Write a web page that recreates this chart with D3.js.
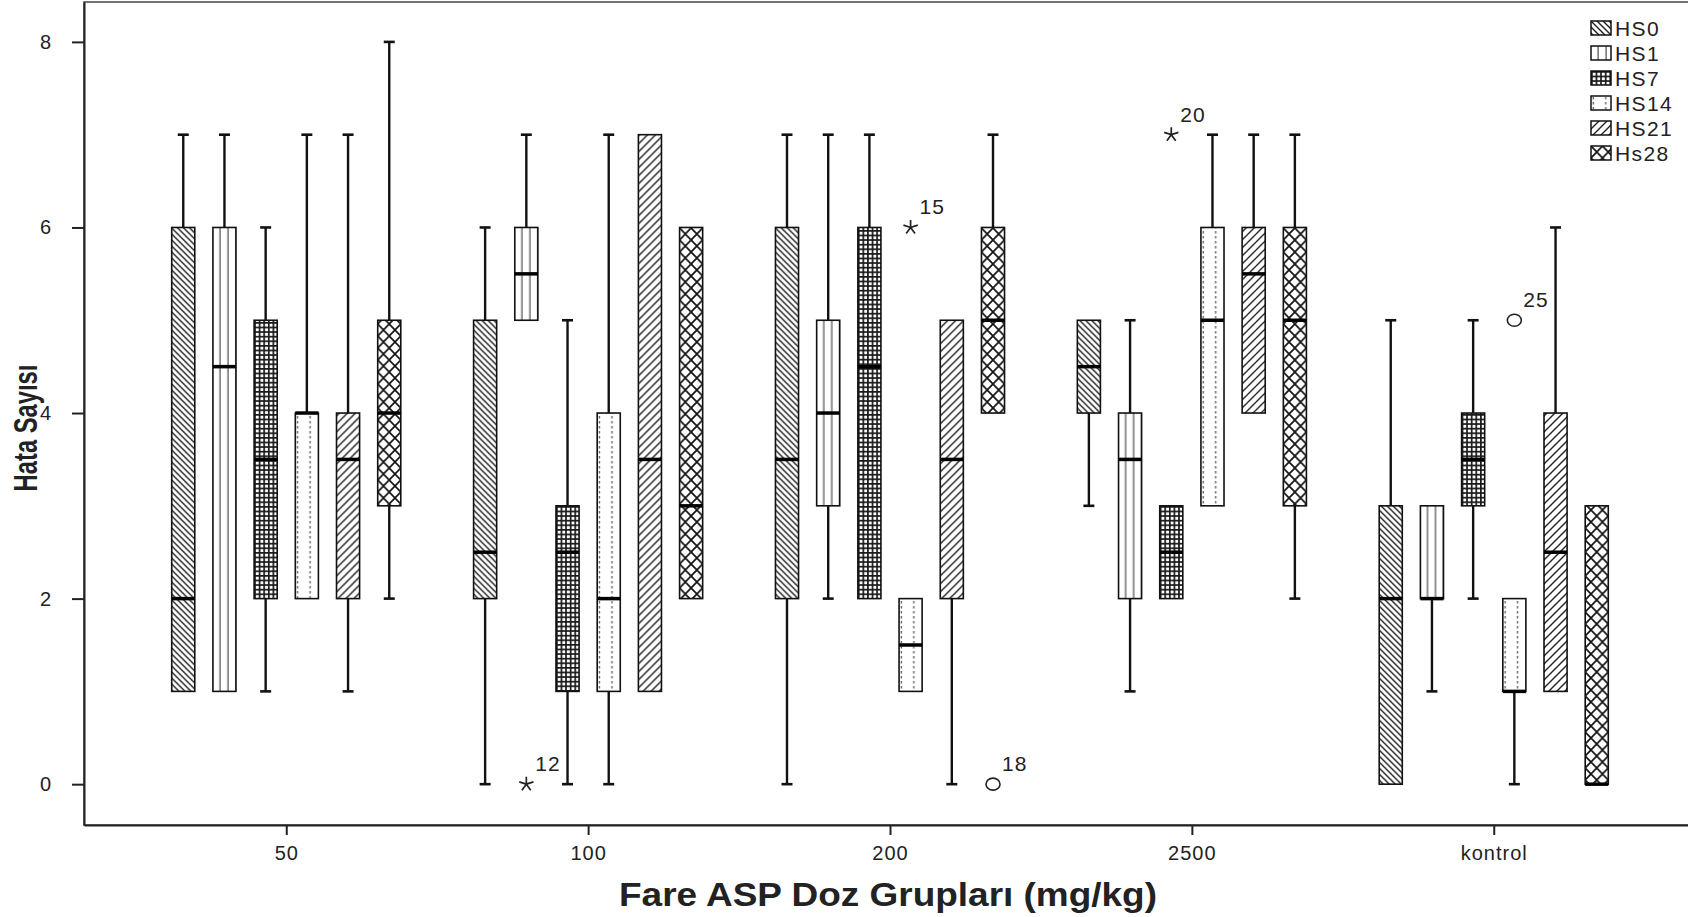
<!DOCTYPE html>
<html>
<head>
<meta charset="utf-8">
<script src="https://cdn.jsdelivr.net/npm/d3@7"></script>
<style>
    body { margin: 0; background: #fff; }
    svg text { font-family: "Liberation Sans", Arial, sans-serif; fill: #222; }
</style>
</head>
<body>
<div id="vis"></div>
<script>
'use strict';

//categories
var groups = ['50', '100', '200', '2500', 'kontrol'];
var series = ['HS0', 'HS1', 'HS7', 'HS14', 'HS21', 'Hs28'];
var yTicks = [0, 2, 4, 6, 8];

//[min, q1, median, q3, max] for every group, per series
var hs0  = [[1, 1, 2, 6, 7], [0, 2, 2.5, 5, 6], [0, 2, 3.5, 6, 7], [3, 4, 4.5, 5, 5], [0, 0, 2, 3, 5]];
var hs1  = [[1, 1, 4.5, 6, 7], [5, 5, 5.5, 6, 7], [2, 3, 4, 5, 7], [1, 2, 3.5, 4, 5], [1, 2, 2, 3, 3]];
var hs7  = [[1, 2, 3.5, 5, 6], [0, 1, 2.5, 3, 5], [2, 2, 4.5, 6, 7], [2, 2, 2.5, 3, 3], [2, 3, 3.5, 4, 5]];
var hs14 = [[2, 2, 4, 4, 7], [0, 1, 2, 4, 7], [1, 1, 1.5, 2, 2], [3, 3, 5, 6, 7], [0, 1, 1, 2, 2]];
var hs21 = [[1, 2, 3.5, 4, 7], [1, 1, 3.5, 7, 7], [0, 2, 3.5, 5, 5], [4, 4, 5.5, 6, 7], [1, 1, 2.5, 4, 6]];
var hs28 = [[2, 3, 4, 5, 8], [2, 2, 3, 6, 6], [4, 4, 5, 6, 7], [2, 3, 5, 6, 7], [0, 0, 0, 3, 3]];
var seriesValues = [hs0, hs1, hs7, hs14, hs21, hs28];

//outliers: o = mild, * = extreme
var outGroups = ['100', '200', '200', '2500', 'kontrol'];
var outSeries = ['HS1', 'HS14', 'Hs28', 'HS7', 'HS14'];
var outValues = [0, 6, 0, 7, 5];
var outTypes  = ['*', '*', 'o', '*', 'o'];
var outLabels = ['12', '15', '18', '20', '25'];

var W = 1688, H = 917;
var plot = { left: 84, right: 1696, top: 2, bottom: 825 };

var x0 = d3.scalePoint().domain(groups).range([plot.left, plot.right]).padding(0.67);
var x1 = d3.scaleBand().domain(series).range([-123.6, 123.6]).paddingInner(0.44).paddingOuter(0.22);
var y = d3.scaleLinear().domain([-0.44, 8.43]).range([plot.bottom, plot.top]);
var bw = x1.bandwidth();

var svg = d3.select('#vis').append('svg')
    .attr('width', W)
    .attr('height', H);

//fill patterns, tiles start at the box's left edge
var defs = svg.append('defs');
function pattern(id, w, h) {
    var p = defs.append('pattern')
        .attr('id', id)
        .attr('patternUnits', 'userSpaceOnUse')
        .attr('width', w)
        .attr('height', h);
    p.append('rect').attr('width', w).attr('height', h).attr('fill', '#fff');
    return p;
}
pattern('p-HS0', 6, 6).append('path')
    .attr('d', 'M-1,-1L7,7M-1,5L1,7M5,-1L7,1')
    .attr('stroke', '#222').attr('stroke-width', 1.4);
pattern('p-HS1', 8, 10).append('rect')
    .attr('x', 6.3).attr('width', 2.4).attr('height', 10).attr('fill', '#808080');
var p7 = pattern('p-HS7', 4.6, 4.6);
p7.append('rect').attr('width', 4.6).attr('height', 1.7).attr('fill', '#1a1a1a');
p7.append('rect').attr('width', 1.7).attr('height', 4.6).attr('fill', '#1a1a1a');
var p14 = pattern('p-HS14', 12.5, 5);
p14.append('rect').attr('x', 1.6).attr('y', 1).attr('width', 1.4).attr('height', 2.5).attr('fill', '#666');
pattern('p-HS21', 8, 8).append('path')
    .attr('d', 'M-1,9L9,-1M-1,1L1,-1M7,9L9,7')
    .attr('stroke', '#222').attr('stroke-width', 1.4);
pattern('p-Hs28', 11.5, 12).append('path')
    .attr('d', 'M0,0L11.5,12M11.5,0L0,12')
    .attr('stroke', '#111').attr('stroke-width', 1.7);

//frame
svg.append('rect')
    .attr('x', plot.left)
    .attr('y', plot.top)
    .attr('width', plot.right - plot.left)
    .attr('height', plot.bottom - plot.top)
    .attr('fill', 'none')
    .attr('stroke', '#444')
    .attr('stroke-width', 1.5);

//axes
var yAxis = svg.append('g')
    .attr('transform', 'translate(' + plot.left + ',0)')
    .call(d3.axisLeft(y).tickValues(yTicks).tickSize(12).tickSizeOuter(0).tickPadding(20));
var xAxis = svg.append('g')
    .attr('transform', 'translate(0,' + plot.bottom + ')')
    .call(d3.axisBottom(x0).tickSize(10).tickSizeOuter(0).tickPadding(11));
[yAxis, xAxis].forEach(function (a) {
    a.select('.domain').attr('stroke', '#222').attr('stroke-width', 2);
    a.selectAll('.tick line').attr('stroke', '#222').attr('stroke-width', 2);
    a.selectAll('.tick text')
        .style('font-size', '20px')
        .style('letter-spacing', '1px')
        .attr('fill', '#333');
});

//boxes
var boxes = [];
series.forEach(function (s, si) {
    groups.forEach(function (g, gi) {
        var v = seriesValues[si][gi];
        boxes.push({ s: s, g: g, min: v[0], q1: v[1], med: v[2], q3: v[3], max: v[4] });
    });
});

var bg = svg.selectAll('.box')
    .data(boxes)
    .enter()
    .append('g')
    .attr('class', 'box')
    .attr('transform', function (d) {
        return 'translate(' + (x0(d.g) + x1(d.s)) + ',0)';
    });

function whisker(sel, from, to) {
    sel.filter(function (d) { return d[to] !== d[from]; })
        .append('line')
        .attr('x1', bw / 2).attr('x2', bw / 2)
        .attr('y1', function (d) { return y(d[from]); })
        .attr('y2', function (d) { return y(d[to]); })
        .attr('stroke', '#111').attr('stroke-width', 2.4);
    sel.filter(function (d) { return d[to] !== d[from]; })
        .append('line')
        .attr('x1', bw / 2 - 5.5).attr('x2', bw / 2 + 5.5)
        .attr('y1', function (d) { return y(d[to]); })
        .attr('y2', function (d) { return y(d[to]); })
        .attr('stroke', '#111').attr('stroke-width', 2.6);
}
whisker(bg, 'q3', 'max');
whisker(bg, 'q1', 'min');

bg.append('rect')
    .attr('width', bw)
    .attr('y', function (d) { return y(d.q3); })
    .attr('height', function (d) { return y(d.q1) - y(d.q3); })
    .attr('fill', function (d) { return 'url(#p-' + d.s + ')'; })
    .attr('stroke', '#111')
    .attr('stroke-width', 1.6);

bg.append('line')
    .attr('x2', bw)
    .attr('y1', function (d) { return y(d.med); })
    .attr('y2', function (d) { return y(d.med); })
    .attr('stroke', '#000')
    .attr('stroke-width', 3.5);

//outliers
var starPath = d3.range(5).map(function (i) {
    var a = -Math.PI / 2 + i * 2 * Math.PI / 5;
    return 'M0,0L' + (7.5 * Math.cos(a)).toFixed(2) + ',' + (7.5 * Math.sin(a)).toFixed(2);
}).join('');

outValues.forEach(function (v, i) {
    var cx = x0(outGroups[i]) + x1(outSeries[i]) + bw / 2;
    var og = svg.append('g').attr('transform', 'translate(' + cx + ',' + y(v) + ')');
    if (outTypes[i] === '*') {
        og.append('path').attr('d', starPath).attr('stroke', '#222').attr('stroke-width', 1.7).attr('fill', 'none');
    } else {
        og.append('ellipse').attr('rx', 7).attr('ry', 6).attr('fill', 'none').attr('stroke', '#222').attr('stroke-width', 1.6);
    }
    og.append('text')
        .attr('x', 9)
        .attr('y', -13)
        .text(outLabels[i])
        .style('font-size', '21px')
        .style('letter-spacing', '1px');
});

//legend
var legend = svg.append('g').attr('transform', 'translate(1591,21)');
series.forEach(function (s, i) {
    var row = legend.append('g').attr('transform', 'translate(0,' + (i * 25) + ')');
    row.append('rect')
        .attr('width', 20).attr('height', 14)
        .attr('fill', 'url(#p-' + s + ')')
        .attr('stroke', '#111').attr('stroke-width', 1.5);
    row.append('text')
        .attr('x', 24).attr('y', 7).attr('dy', '0.36em')
        .text(s)
        .style('font-size', '21px')
        .style('letter-spacing', '1.4px');
});

//axis titles
svg.append('text')
    .attr('transform', 'translate(25,428) rotate(-90) scale(0.72,1)')
    .attr('text-anchor', 'middle')
    .attr('dy', '0.35em')
    .style('font-size', '33px')
    .style('font-weight', 'bold')
    .text('Hata Sayısı');
svg.append('text')
    .attr('x', 888)
    .attr('y', 894)
    .attr('dy', '0.35em')
    .attr('text-anchor', 'middle')
    .attr('textLength', 538)
    .attr('lengthAdjust', 'spacingAndGlyphs')
    .style('font-size', '34px')
    .style('font-weight', 'bold')
    .text('Fare ASP Doz Grupları (mg/kg)');
</script>
</body>
</html>
